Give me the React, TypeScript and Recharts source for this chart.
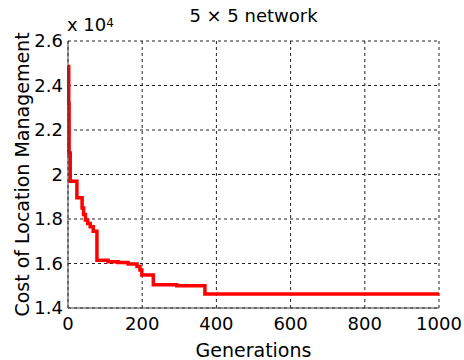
import React from 'react';
import { LineChart, Line, XAxis, YAxis, CartesianGrid } from 'recharts';

const generations = [0, 2, 3, 6, 24, 38, 42, 47, 53, 60, 68, 78, 108, 135, 162, 186, 194, 199, 230, 293, 369, 1000];
const costs = [24850, 23200, 20970, 19700, 18950, 18500, 18200, 17950, 17800, 17650, 17450, 16150, 16080, 16050, 15980, 15860, 15710, 15480, 15050, 15000, 14630, 14630];
const xTicks = [0, 200, 400, 600, 800, 1000];
const yTicks = [14000, 16000, 18000, 20000, 22000, 24000, 26000];
const title = '5 \u00d7 5 network';
const xLabel = 'Generations';
const yLabel = 'Cost of Location Management';

const data = generations.map((g, i) => ({ gen: g, cost: costs[i] }));
const FONT = 'DejaVu Sans';
const AXIS = '#404040';

export default function App() {
  return (
    <div style={{ position: 'absolute', left: 0, top: 0, width: 464, height: 360, background: '#fff', fontFamily: FONT }}>
      <LineChart width={464} height={360} data={data} margin={{ top: 41, right: 25, left: 0, bottom: 0 }}>
        <CartesianGrid stroke="#222" strokeDasharray="3 3" strokeWidth={1} />
        <XAxis
          dataKey="gen"
          type="number"
          domain={[0, 1000]}
          ticks={xTicks}
          height={52}
          stroke={AXIS}
          tickLine={false}
          tickSize={0}
          tickMargin={9}
          tick={{ fill: '#000', fontSize: 18, fontFamily: FONT }}
          label={{ value: xLabel, position: 'insideBottom', offset: 3, fill: '#000', fontSize: 19, fontFamily: FONT }}
        />
        <XAxis xAxisId="top" orientation="top" type="number" domain={[0, 1000]} height={0} tick={false} tickLine={false} stroke={AXIS} />
        <YAxis
          type="number"
          domain={[14000, 26000]}
          ticks={yTicks}
          width={68}
          stroke={AXIS}
          tickLine={false}
          tickSize={0}
          tickMargin={5}
          tickFormatter={(v: number) => (v / 10000).toString()}
          tick={{ fill: '#000', fontSize: 18, fontFamily: FONT }}
          label={{ value: yLabel, angle: -90, position: 'insideLeft', offset: 22, fill: '#000', fontSize: 19, fontFamily: FONT, style: { textAnchor: 'middle' } }}
        />
        <YAxis yAxisId="right" orientation="right" type="number" domain={[0, 1]} width={0} tick={false} tickLine={false} stroke={AXIS} />
        <Line type="stepAfter" dataKey="cost" stroke="#ff0000" strokeWidth={3.5} dot={false} isAnimationActive={false} />
      </LineChart>
      <div style={{ position: 'absolute', left: 0, width: 507, top: 6, textAlign: 'center', fontSize: 18, color: '#000', lineHeight: '20px', whiteSpace: 'nowrap' }}>
        {title}
      </div>
      <div style={{ position: 'absolute', left: 67, top: 14, fontSize: 18, color: '#000', lineHeight: '22px', whiteSpace: 'nowrap' }}>
        x 10<sup style={{ fontSize: 12, verticalAlign: 'top', position: 'relative', top: -2 }}>4</sup>
      </div>
    </div>
  );
}
